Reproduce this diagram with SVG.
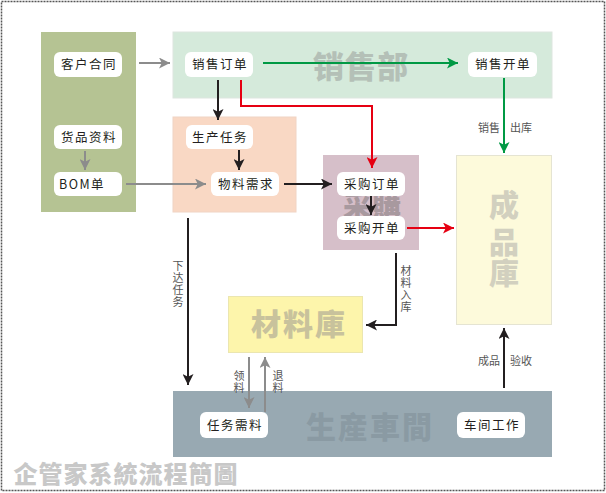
<svg xmlns="http://www.w3.org/2000/svg" width="606" height="493" viewBox="0 0 606 493">
<defs>
<style>
.node rect.n{fill:#fff;}
.nt{font-family:"Noto Sans CJK SC","Noto Sans",sans-serif;font-size:12.5px;fill:#231f20;text-anchor:middle;letter-spacing:1.5px;}
.wm{font-family:"Noto Sans CJK SC","Noto Sans",sans-serif;font-weight:900;text-anchor:middle;}
.lb{font-family:"Noto Sans CJK SC","Liberation Serif",serif;font-size:11px;fill:#555;text-anchor:middle;}
.k{stroke:#231f20;stroke-width:2;fill:none;}
.g{stroke:#8c8c8c;stroke-width:2;fill:none;}
.gr{stroke:#009944;stroke-width:2;fill:none;}
.r{stroke:#e60012;stroke-width:2;fill:none;}
</style>
<marker id="ak" viewBox="0 0 10 10" refX="10" refY="5" markerWidth="5.5" markerHeight="5.5" orient="auto" markerUnits="strokeWidth"><path d="M0,0 L10,5 L0,10 L2.5,5 z" fill="#231f20"/></marker>
<marker id="ag" viewBox="0 0 10 10" refX="10" refY="5" markerWidth="5.5" markerHeight="5.5" orient="auto" markerUnits="strokeWidth"><path d="M0,0 L10,5 L0,10 L2.5,5 z" fill="#8c8c8c"/></marker>
<marker id="agr" viewBox="0 0 10 10" refX="10" refY="5" markerWidth="5.5" markerHeight="5.5" orient="auto" markerUnits="strokeWidth"><path d="M0,0 L10,5 L0,10 L2.5,5 z" fill="#009944"/></marker>
<marker id="ar" viewBox="0 0 10 10" refX="10" refY="5" markerWidth="5.5" markerHeight="5.5" orient="auto" markerUnits="strokeWidth"><path d="M0,0 L10,5 L0,10 L2.5,5 z" fill="#e60012"/></marker>
</defs>
<rect x="0" y="0" width="606" height="493" fill="#fff"/>
<rect x="1.5" y="1.5" width="603" height="489" fill="none" stroke="#555" stroke-width="1.5" stroke-dasharray="2,1"/>

<g id="areas">
<rect id="client-area" x="41" y="32" width="95" height="180" fill="#b5c393"/>
<g id="sales-dept"><rect x="173" y="32" width="379" height="66" fill="#d5eadb" stroke="#dde6df" stroke-width="1"/>
<text class="wm" x="361" y="78" font-size="31" fill="#b4c0b7" letter-spacing="1">销售部</text></g>
<rect id="prod-task-area" x="173" y="117" width="123" height="95" fill="#f9d8c4" stroke="#f0d4c4" stroke-width="1"/>
<g id="purchase-dept"><rect x="323" y="155" width="96" height="95" fill="#d6bfc9"/>
<text class="wm" x="372" y="217" font-size="29" fill="#a8999f">采購</text></g>
<g id="finished-store"><rect x="456.5" y="155.5" width="95" height="169" fill="#fdfadb" stroke="#e5e4d2" stroke-width="1"/>
<text class="wm" x="504" y="216" font-size="30" fill="#d2d0bf">成</text>
<text class="wm" x="504" y="253" font-size="30" fill="#d2d0bf">品</text>
<text class="wm" x="504" y="284" font-size="30" fill="#d2d0bf">庫</text></g>
<g id="material-store"><rect x="228.5" y="296.5" width="134" height="56" fill="#fdf5ab" stroke="#ebe6b0" stroke-width="1"/>
<text class="wm" x="299" y="335" font-size="30" fill="#c8c29c" letter-spacing="2">材料庫</text></g>
<g id="workshop"><rect x="173" y="391" width="379" height="66" fill="#98a9b2"/>
<text class="wm" x="370" y="438" font-size="30" fill="#8a9aa3" letter-spacing="2">生産車間</text></g>
</g>

<text id="title" class="wm" x="126" y="483" font-size="24" fill="#c8c8c8" letter-spacing="1">企管家系統流程簡圖</text>

<g id="connectors">
<line class="g" x1="139" y1="63" x2="170" y2="63" marker-end="url(#ag)"/>
<line class="gr" x1="263" y1="63" x2="458" y2="63" marker-end="url(#agr)"/>
<line class="k" x1="218" y1="80" x2="218" y2="120" marker-end="url(#ak)"/>
<polyline class="r" points="241,80 241,106 372,106 372,168" marker-end="url(#ar)"/>
<line class="k" x1="239" y1="150" x2="239" y2="170" marker-end="url(#ak)"/>
<line class="g" x1="85" y1="151" x2="85" y2="170" marker-end="url(#ag)"/>
<line class="g" x1="126" y1="184" x2="206" y2="184" marker-end="url(#ag)"/>
<line class="k" x1="284" y1="184" x2="332" y2="184" marker-end="url(#ak)"/>
<line class="k" x1="371" y1="196" x2="371" y2="215" marker-end="url(#ak)"/>
<line class="r" x1="407" y1="228" x2="454" y2="228" marker-end="url(#ar)"/>
<line class="gr" x1="504" y1="78" x2="504" y2="153" marker-end="url(#agr)"/>
<line class="k" x1="188" y1="218" x2="188" y2="385" marker-end="url(#ak)"/>
<polyline class="k" points="396,253 396,325 366,325" marker-end="url(#ak)"/>
<line class="k" x1="504" y1="388" x2="504" y2="328" marker-end="url(#ak)"/>
<line class="g" x1="249" y1="357" x2="249" y2="408" marker-end="url(#ag)"/>
<line class="g" x1="265" y1="412" x2="265" y2="357" marker-end="url(#ag)"/>
<g id="connector-labels">
<text class="lb" x="489" y="132" font-size="12">销售</text>
<text class="lb" x="521" y="132" font-size="12">出库</text>
<text class="lb" x="489" y="365" font-size="12">成品</text>
<text class="lb" x="521" y="365" font-size="12">验收</text>
<text class="lb"><tspan x="178" y="270">下</tspan><tspan x="178" dy="12">达</tspan><tspan x="178" dy="12">任</tspan><tspan x="178" dy="12">务</tspan></text>
<text class="lb"><tspan x="406" y="275">材</tspan><tspan x="406" dy="12">料</tspan><tspan x="406" dy="12">入</tspan><tspan x="406" dy="12">库</tspan></text>
<text class="lb"><tspan x="239" y="380">领</tspan><tspan x="239" dy="12">料</tspan></text>
<text class="lb"><tspan x="278" y="380">退</tspan><tspan x="278" dy="12">料</tspan></text>
</g>
</g>

<g id="n-contract" class="node"><rect class="n" x="54" y="52" width="68" height="25" rx="6"/><text class="nt" x="89" y="69">客户合同</text></g>
<g id="n-goods" class="node"><rect class="n" x="54" y="125" width="68" height="24" rx="6"/><text class="nt" x="89" y="142">货品资料</text></g>
<g id="n-bom" class="node"><rect class="n" x="54" y="172" width="68" height="24" rx="6"/><text class="nt" x="82" y="189" letter-spacing="0.5">BOM单</text></g>
<g id="n-salesorder" class="node"><rect class="n" x="185" y="52" width="68" height="25" rx="6"/><text class="nt" x="220" y="69">销售订单</text></g>
<g id="n-salesbill" class="node"><rect class="n" x="468" y="52" width="69" height="25" rx="6"/><text class="nt" x="503" y="69">销售开单</text></g>
<g id="n-prodtask" class="node"><rect class="n" x="186" y="125" width="67" height="24" rx="6"/><text class="nt" x="220" y="142">生产任务</text></g>
<g id="n-matreq" class="node"><rect class="n" x="211" y="172" width="68" height="24" rx="6"/><text class="nt" x="246" y="189">物料需求</text></g>
<g id="n-purorder" class="node"><rect class="n" x="337" y="172" width="68" height="24" rx="6"/><text class="nt" x="372" y="189">采购订单</text></g>
<g id="n-purbill" class="node"><rect class="n" x="337" y="216" width="68" height="24" rx="6"/><text class="nt" x="372" y="233">采购开单</text></g>
<g id="n-taskmat" class="node"><rect class="n" x="200" y="412" width="68" height="26" rx="6"/><text class="nt" x="235" y="430">任务需料</text></g>
<g id="n-work" class="node"><rect class="n" x="457" y="412" width="68" height="26" rx="6"/><text class="nt" x="492" y="430">车间工作</text></g>
</svg>
